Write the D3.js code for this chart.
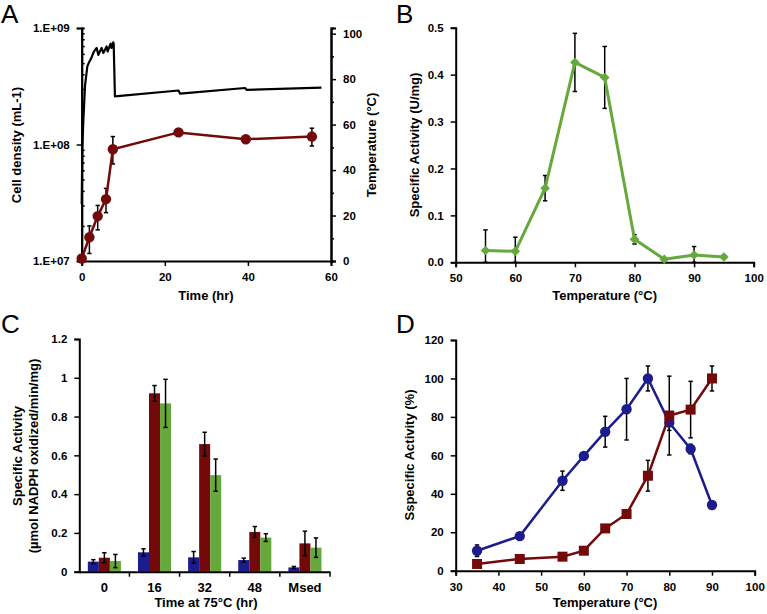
<!DOCTYPE html>
<html><head><meta charset="utf-8">
<script src="https://cdn.jsdelivr.net/npm/d3@7"></script>
<style>body{margin:0;background:#fff} svg{display:block} text{font-family:"Liberation Sans",Arial,sans-serif}</style>
</head><body><svg id="c" width="767" height="614"></svg>
<script>
// ---------- Panel A data ----------
const timeA = [0, 1.85, 3.85, 5.85, 7.5, 23.3, 39.5, 55.4];
const cellDensity = [1.05e7, 1.6e7, 2.43e7, 3.4e7, 9.1e7, 1.27e8, 1.11e8, 1.17e8];
const cellHigh = [null, 2.0e7, 3.0e7, 4.2e7, 1.17e8, null, null, 1.38e8];
const cellLow  = [null, 1.16e7, 1.85e7, 2.6e7, 6.8e7, null, null, 9.7e7];
const tempTime  = [0, 0.15, 0.4, 0.8, 1.35, 1.76, 2.2, 2.96, 3.6, 4.0, 4.8, 5.2, 6.0, 6.25, 6.97, 7.2, 7.6, 7.7, 8.0, 23.3, 23.7, 39.3, 39.7, 57.7];
const tempValue = [25, 50, 62, 77, 85.6, 87.4, 88.8, 92.2, 93.7, 90.7, 93.7, 91.5, 94.4, 92.2, 95.6, 93.7, 96.2, 95.5, 72.4, 75, 73.6, 76.1, 75.3, 76.3];
const tickLogA = [1e7, 1e8, 1e9];
const tickTimeA = [0, 20, 40, 60];
const tickTempA = [0, 20, 40, 60, 80, 100];

// ---------- Panel B data ----------
const tempB = [55, 60, 65, 70, 75, 80, 85, 90, 95];
const actB  = [0.025, 0.0235, 0.158, 0.426, 0.394, 0.049, 0.0064, 0.0156, 0.0114];
const errB  = [0.044, 0.03, 0.027, 0.062, 0.066, 0.01, 0, 0.018, 0];
const tickYB = [0, 0.1, 0.2, 0.3, 0.4, 0.5];
const tickXB = [50, 60, 70, 80, 90, 100];

// ---------- Panel C data ----------
const catsC = ["0", "16", "32", "48", "Msed"];
const blueC  = [0.052, 0.1, 0.074, 0.06, 0.022];
const redC   = [0.072, 0.92, 0.658, 0.205, 0.146];
const greenC = [0.055, 0.868, 0.498, 0.176, 0.124];
const blueErrC  = [0.01, 0.018, 0.03, 0.01, 0.005];
const redErrC   = [0.026, 0.04, 0.061, 0.028, 0.063];
const greenErrC = [0.034, 0.124, 0.083, 0.02, 0.05];
const tickYC = [0, 0.2, 0.4, 0.6, 0.8, 1, 1.2];

// ---------- Panel D data ----------
const tempD  = [35, 45, 55, 60, 65, 70, 75, 80, 85, 90];
const blueD  = [10.4, 18, 46.8, 59.7, 72.3, 84, 100, 77, 63.3, 34.2];
const blueErrD = [3, 0, 5, 0, 8, 16, 6.5, 4, 2.5, 0];
const redD   = [3.5, 6.1, 7.3, 10.4, 22, 29.5, 49.4, 80.7, 83.8, 100];
const redErrD  = [0, 0, 0, 0, 0, 0, 8, 20.5, 14.7, 6.5];
const tickYD = [0, 20, 40, 60, 80, 100, 120];
const tickXD = [30, 40, 50, 60, 70, 80, 90, 100];

const BLUE = "#1c1c8e", RED = "#730909", GREEN = "#67a83d";
const FONT = "'Liberation Sans', Arial, sans-serif";
const svg = d3.select("#c");

function styleAxis(g) {
  g.select(".domain").attr("stroke", "#000").attr("stroke-width", 2);
  g.selectAll(".tick line").attr("stroke", "#000").attr("stroke-width", 1.5);
  g.selectAll("text").attr("font-size", 11.5).attr("font-weight", "bold")
    .attr("fill", "#000").attr("font-family", FONT);
  return g;
}
function title(x, y, txt, rot, size) {
  const t = svg.append("text").attr("x", x).attr("y", y).attr("text-anchor", "middle")
    .attr("font-size", size || 13).attr("font-weight", "bold").attr("fill", "#000")
    .attr("dominant-baseline", "middle").text(txt);
  if (rot) t.attr("transform", `rotate(-90,${x},${y})`);
  return t;
}
function letter(x, y, txt) {
  svg.append("text").attr("x", x).attr("y", y).attr("font-size", 26).attr("fill", "#000").text(txt);
}
function errBar(g, x, y0, y1, cap) {
  const c = cap || 2.2;
  g.append("line").attr("x1", x).attr("x2", x).attr("y1", y0).attr("y2", y1);
  g.append("line").attr("x1", x - c).attr("x2", x + c).attr("y1", y0).attr("y2", y0);
  g.append("line").attr("x1", x - c).attr("x2", x + c).attr("y1", y1).attr("y2", y1);
}

// ================= Panel A =================
{
  const x = d3.scaleLinear().domain([0, 60]).range([81.7, 331]);
  const yL = d3.scaleLog().domain([1e7, 1e9]).range([261, 28]);
  const yR = d3.scaleLinear().domain([0, 102.5]).range([261, 28]);
  const minor = [];
  for (let e = 7; e < 9; e++) for (let m = 2; m <= 9; m++) minor.push(m * Math.pow(10, e));

  styleAxis(svg.append("g").attr("transform", "translate(81.7,0)")
    .call(d3.axisLeft(yL).tickValues(minor).tickSize(-3).tickFormat("")));
  styleAxis(svg.append("g").attr("transform", "translate(81.7,0)")
    .call(d3.axisLeft(yL).tickValues(tickLogA).tickSize(5).tickPadding(7)
      .tickFormat(d => "1.E+0" + Math.round(Math.log10(d)))));
  styleAxis(svg.append("g").attr("transform", "translate(331,0)")
    .call(d3.axisRight(yR).tickValues([10, 30, 50, 70, 90]).tickSize(3).tickFormat("")));
  styleAxis(svg.append("g").attr("transform", "translate(331,0)")
    .call(d3.axisRight(yR).tickValues(tickTempA).tickSize(5).tickPadding(7)));
  styleAxis(svg.append("g").attr("transform", "translate(0,261)")
    .call(d3.axisBottom(x).tickValues(tickTimeA).tickSize(5).tickPadding(7)));

  svg.append("path").datum(tempTime.map((t, i) => [t, tempValue[i]]))
    .attr("fill", "none").attr("stroke", "#000").attr("stroke-width", 2.2).attr("stroke-linejoin", "round")
    .attr("d", d3.line().x(d => x(d[0])).y(d => yR(d[1])));

  const eg = svg.append("g").attr("stroke", "#000").attr("stroke-width", 1.5);
  timeA.forEach((t, i) => { if (cellHigh[i] != null) errBar(eg, x(t), yL(cellHigh[i]), yL(cellLow[i])); });

  svg.append("path").datum(timeA.map((t, i) => [t, cellDensity[i]]))
    .attr("fill", "none").attr("stroke", RED).attr("stroke-width", 2.5)
    .attr("d", d3.line().x(d => x(d[0])).y(d => yL(d[1])));
  svg.append("g").selectAll("circle").data(timeA).join("circle")
    .attr("cx", d => x(d)).attr("cy", (d, i) => yL(cellDensity[i])).attr("r", 5.2).attr("fill", RED);

  title(18, 145, "Cell density (mL-1)", true);
  title(372.5, 145, "Temperature (°C)", true);
  title(206, 297, "Time (hr)");
  letter(1, 23, "A");
}

// ================= Panel B =================
{
  const x = d3.scaleLinear().domain([50, 100]).range([455.7, 753.7]);
  const y = d3.scaleLinear().domain([0, 0.5]).range([262.3, 27.7]);
  styleAxis(svg.append("g").attr("transform", "translate(455.7,0)")
    .call(d3.axisLeft(y).tickValues(tickYB).tickSize(5).tickPadding(7).tickFormat(d3.format(".1f"))));
  styleAxis(svg.append("g").attr("transform", "translate(0,262.3)")
    .call(d3.axisBottom(x).tickValues(tickXB).tickSize(5).tickPadding(7)));

  const eg = svg.append("g").attr("stroke", "#000").attr("stroke-width", 1.5);
  tempB.forEach((t, i) => {
    if (errB[i] > 0) errBar(eg, x(t), y(actB[i] + errB[i]), y(Math.max(0, actB[i] - errB[i])));
  });
  svg.append("path").datum(tempB.map((t, i) => [t, actB[i]]))
    .attr("fill", "none").attr("stroke", GREEN).attr("stroke-width", 3).attr("stroke-linejoin", "round")
    .attr("d", d3.line().x(d => x(d[0])).y(d => y(d[1])));
  svg.append("g").selectAll("path").data(tempB).join("path")
    .attr("transform", (d, i) => `translate(${x(d)},${y(actB[i])})`)
    .attr("d", "M0,-4.8L4.8,0L0,4.8L-4.8,0Z").attr("fill", GREEN);

  title(416, 145, "Specific Activity (U/mg)", true);
  title(604.7, 297, "Temperature (°C)");
  letter(396, 23, "B");
}

// ================= Panel C =================
{
  const x = d3.scaleBand().domain(catsC).range([79.3, 330]).paddingInner(0.34).paddingOuter(0.17);
  const sub = d3.scaleBand().domain(["b", "r", "g"]).range([0, x.bandwidth()]);
  const y = d3.scaleLinear().domain([0, 1.2]).range([571.7, 339]);
  styleAxis(svg.append("g").attr("transform", "translate(79.3,0)")
    .call(d3.axisLeft(y).tickValues(tickYC).tickSize(5).tickPadding(7).tickFormat(d => String(+d.toFixed(1)))));

  const series = [["b", blueC, blueErrC, BLUE], ["r", redC, redErrC, RED], ["g", greenC, greenErrC, GREEN]];
  series.forEach(([k, vals, errs, col]) => {
    svg.append("g").selectAll("rect").data(catsC).join("rect")
      .attr("x", c => x(c) + sub(k)).attr("width", sub.bandwidth())
      .attr("y", (c, i) => y(vals[i])).attr("height", (c, i) => y(0) - y(vals[i])).attr("fill", col);
  });
  const eg = svg.append("g").attr("stroke", "#000").attr("stroke-width", 1.5);
  series.forEach(([k, vals, errs]) => {
    catsC.forEach((c, i) => {
      const cx = x(c) + sub(k) + sub.bandwidth() / 2;
      errBar(eg, cx, y(vals[i] + errs[i]), y(Math.max(0, vals[i] - errs[i])));
    });
  });

  const xa = styleAxis(svg.append("g").attr("transform", "translate(0,571.7)")
    .call(d3.axisBottom(x).tickSize(0).tickPadding(11)));
  xa.selectAll("text").attr("font-size", 13);
  const r0 = x.range()[0];
  svg.append("g").attr("stroke", "#000").attr("stroke-width", 1.5).selectAll("line")
    .data(d3.range(1, catsC.length + 1)).join("line")
    .attr("x1", i => r0 + i * x.step()).attr("x2", i => r0 + i * x.step())
    .attr("y1", 571.7).attr("y2", 576.7);

  title(19, 456, "Specific Activity", true);
  title(35, 456, "(µmol NADPH oxidized/min/mg)", true);
  title(206, 604, "Time at 75°C (hr)");
  letter(1, 333, "C");
}

// ================= Panel D =================
{
  const x = d3.scaleLinear().domain([30, 100]).range([455.7, 754.7]);
  const y = d3.scaleLinear().domain([0, 120]).range([570.7, 340]);
  styleAxis(svg.append("g").attr("transform", "translate(455.7,0)")
    .call(d3.axisLeft(y).tickValues(tickYD).tickSize(5).tickPadding(7)));
  styleAxis(svg.append("g").attr("transform", "translate(0,570.7)")
    .call(d3.axisBottom(x).tickValues(tickXD).tickSize(5).tickPadding(7)));

  const eg = svg.append("g").attr("stroke", "#000").attr("stroke-width", 1.5);
  tempD.forEach((t, i) => {
    if (blueErrD[i] > 0) errBar(eg, x(t), y(blueD[i] + blueErrD[i]), y(blueD[i] - blueErrD[i]));
    if (redErrD[i] > 0) errBar(eg, x(t), y(redD[i] + redErrD[i]), y(redD[i] - redErrD[i]));
  });
  const line = d3.line().x(d => x(d[0])).y(d => y(d[1]));
  svg.append("path").datum(tempD.map((t, i) => [t, blueD[i]]))
    .attr("fill", "none").attr("stroke", BLUE).attr("stroke-width", 2.5).attr("d", line);
  svg.append("g").selectAll("circle").data(tempD).join("circle")
    .attr("cx", d => x(d)).attr("cy", (d, i) => y(blueD[i])).attr("r", 5.2).attr("fill", BLUE);
  svg.append("path").datum(tempD.map((t, i) => [t, redD[i]]))
    .attr("fill", "none").attr("stroke", RED).attr("stroke-width", 2.5).attr("d", line);
  svg.append("g").selectAll("rect").data(tempD).join("rect")
    .attr("x", d => x(d) - 5).attr("y", (d, i) => y(redD[i]) - 5).attr("width", 10).attr("height", 10).attr("fill", RED);

  title(411, 455, "Sspecific Activity (%)", true);
  title(605, 604, "Temperature (°C)");
  letter(396, 333, "D");
}
</script></body></html>
